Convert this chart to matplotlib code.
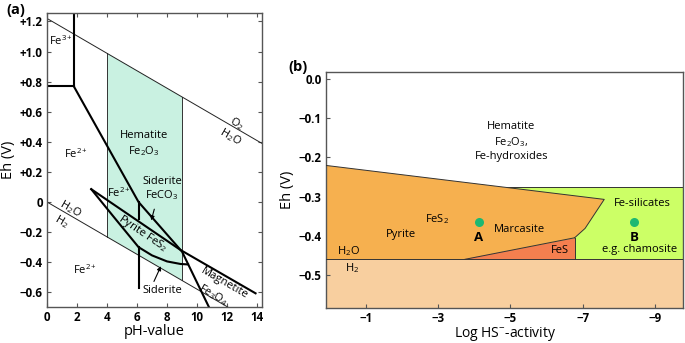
import matplotlib
matplotlib.use("Agg")
import matplotlib.pyplot as plt
from matplotlib.patches import Polygon

plt.rcParams['font.family'] = ['Open Sans', 'DejaVu Sans']
plt.rcParams['mathtext.fontset'] = 'custom'
plt.rcParams['mathtext.rm'] = 'Open Sans'
plt.rcParams['mathtext.it'] = 'Open Sans:italic'
plt.rcParams['mathtext.bf'] = 'Open Sans:bold'
plt.rcParams['axes.unicode_minus'] = True

# ---------------- Panel (a) data: Eh-pH diagram ----------------
o2_ph = [0.0, 14.4]
o2_eh = [1.22, 0.385]
h2_ph = [0.0, 12.3]
h2_eh = [0.0, -0.713]
fe3_vert_ph = [1.78, 1.78]
fe3_vert_eh = [1.30, 0.77]
fe3_horiz_ph = [0.0, 1.78]
fe3_horiz_eh = [0.77, 0.77]
lineA_ph = [1.78, 6.1, 9.0, 10.8]
lineA_eh = [0.77, 0.0, -0.33, -0.70]
lineB_ph = [2.95, 8.9, 13.9]
lineB_eh = [0.085, -0.319, -0.607]
lower_ph = [2.95, 4.44, 6.1, 7.0, 8.0, 8.9, 9.4]
lower_eh = [0.085, -0.098, -0.30, -0.355, -0.395, -0.412, -0.415]
sid_vert_ph = 6.1
sid_seg1_eh = [0.0, -0.116]
sid_seg2_eh = [-0.30, -0.573]
hem_ph = [4.0, 9.0]

a_xticks = [0, 2, 4, 6, 8, 10, 12, 14]
a_yticks = [1.2, 1.0, 0.8, 0.6, 0.4, 0.2, 0.0, -0.2, -0.4, -0.6]
a_yticklabels = ['+1.2', '+1.0', '+0.8', '+0.6', '+0.4', '+0.2', '0',
                 '\u22120.2', '\u22120.4', '\u22120.6']

# ---------------- Panel (b) data: Eh vs log HS- ----------------
orange_x = [0.1, -7.6, -7.07, -6.78, -3.74, 0.1]
orange_eh = [-0.2204, -0.307, -0.381, -0.405, -0.46, -0.46]
fes_x = [-6.78, -6.78, -3.74]
fes_eh = [-0.405, -0.46, -0.46]
green_x = [-4.9, -9.8, -9.8, -4.9]
green_eh = [-0.275, -0.275, -0.46, -0.46]
h2_level = -0.46
point_names = ['A', 'B']
point_x = [-4.13, -8.42]
point_eh = [-0.365, -0.365]
b_xticks = [-1, -3, -5, -7, -9]
b_xticklabels = ['\u22121', '\u22123', '\u22125', '\u22127', '\u22129']
b_yticks = [0.0, -0.1, -0.2, -0.3, -0.4, -0.5]
b_yticklabels = ['0.0', '\u22120.1', '\u22120.2', '\u22120.3', '\u22120.4', '\u22120.5']

fig = plt.figure(figsize=(6.85, 3.43), dpi=100)
axa = fig.add_axes([0.0686, 0.1058, 0.3139, 0.8563])
axb = fig.add_axes([0.4759, 0.1012, 0.5216, 0.6898])

spine_col = '#555555'
thick = 1.5
thin = 0.7
fs = 8
tfs = 8.3

# ----- Panel (a) -----
axa.set_xlim(0, 14.33)
axa.set_ylim(-0.696, 1.256)

def interp(x, xs, ys):
    return ys[0] + (ys[1] - ys[0]) * (x - xs[0]) / (xs[1] - xs[0])

hx = [hem_ph[0], hem_ph[1], hem_ph[1], hem_ph[0]]
hy = [interp(hem_ph[0], o2_ph, o2_eh), interp(hem_ph[1], o2_ph, o2_eh),
      interp(hem_ph[1], h2_ph, h2_eh), interp(hem_ph[0], h2_ph, h2_eh)]
axa.add_patch(Polygon(list(zip(hx, hy)), closed=True, facecolor='#c9f1e1',
                      edgecolor='none', zorder=0))
for p in hem_ph:
    axa.plot([p, p], [interp(p, o2_ph, o2_eh), interp(p, h2_ph, h2_eh)],
             color='#333333', lw=thin, zorder=1)

axa.plot(o2_ph, o2_eh, color='#222222', lw=thin)
axa.plot(h2_ph, h2_eh, color='#222222', lw=thin)
axa.plot(fe3_vert_ph, fe3_vert_eh, color='black', lw=thick)
axa.plot(fe3_horiz_ph, fe3_horiz_eh, color='black', lw=thick)
axa.plot(lineA_ph, lineA_eh, color='black', lw=thick)
axa.plot(lineB_ph, lineB_eh, color='black', lw=thick)
axa.plot(lower_ph, lower_eh, color='black', lw=thick)
axa.plot([sid_vert_ph, sid_vert_ph], sid_seg1_eh, color='black', lw=thick)
axa.plot([sid_vert_ph, sid_vert_ph], sid_seg2_eh, color='black', lw=thick)

arrow_kw = dict(arrowstyle='-|>', color='black', lw=0.8, mutation_scale=6)
axa.annotate('', xy=(6.9, -0.14), xytext=(7.2, -0.03), arrowprops=arrow_kw)
axa.annotate('', xy=(7.67, -0.41), xytext=(7.05, -0.545), arrowprops=arrow_kw)

axa.text(0.9, 1.07, 'Fe$^{3+}$', fontsize=fs, ha='center', va='center')
axa.text(1.95, 0.32, 'Fe$^{2+}$', fontsize=fs, ha='center', va='center')
axa.text(6.45, 0.385, 'Hematite\nFe$_2$O$_3$', fontsize=fs, ha='center',
         va='center', linespacing=1.3)
axa.text(12.67, 0.523, 'O$_2$', fontsize=fs, ha='center', va='center',
         rotation=-30, rotation_mode='anchor')
axa.text(12.22, 0.434, 'H$_2$O', fontsize=fs, ha='center', va='center',
         rotation=-30, rotation_mode='anchor')
axa.text(1.55, -0.042, 'H$_2$O', fontsize=fs, ha='center', va='center',
         rotation=-30, rotation_mode='anchor')
axa.text(1.0, -0.131, 'H$_2$', fontsize=fs, ha='center', va='center',
         rotation=-30, rotation_mode='anchor')
axa.text(4.78, 0.062, 'Fe$^{2+}$', fontsize=fs, ha='center', va='center')
axa.text(7.67, 0.086, 'Siderite\nFeCO$_3$', fontsize=fs, ha='center',
         va='center', linespacing=1.15)
axa.text(6.37, -0.21, 'Pyrite FeS$_2$', fontsize=fs, ha='center', va='center',
         rotation=-34, rotation_mode='anchor')
axa.text(2.55, -0.45, 'Fe$^{2+}$', fontsize=fs, ha='center', va='center')
axa.text(7.67, -0.59, 'Siderite', fontsize=fs, ha='center', va='center')
axa.text(11.8, -0.54, 'Magnetite', fontsize=fs, ha='center', va='center',
         rotation=-30, rotation_mode='anchor')
axa.text(11.05, -0.615, 'Fe$_3$O$_4$', fontsize=fs, ha='center', va='center',
         rotation=-30, rotation_mode='anchor')

axa.set_xticks(a_xticks)
axa.set_xticklabels([str(t) for t in a_xticks])
axa.set_yticks(a_yticks)
axa.set_yticklabels(a_yticklabels)
axa.tick_params(direction='in', length=3, width=0.8, color=spine_col,
                labelsize=tfs, top=True, right=True, pad=3)
for lab in axa.get_xticklabels() + axa.get_yticklabels():
    lab.set_fontweight('bold')
axa.set_xlabel('pH-value', fontsize=10.5, labelpad=0)
axa.set_ylabel('Eh (V)', fontsize=10.5, labelpad=3)
for s in axa.spines.values():
    s.set_color(spine_col)
    s.set_linewidth(1.0)
fig.text(6 / 685, 1 - 10 / 343, '(a)', fontsize=10.5, fontweight='bold',
         ha='left', va='center')

# ----- Panel (b) -----
axb.set_xlim(0.108, -9.79)
axb.set_ylim(-0.585, 0.019)
axb.axhspan(-0.585, h2_level, facecolor='#f8cf9f', edgecolor='none', zorder=0)
axb.add_patch(Polygon(list(zip(green_x, green_eh)), closed=True,
                      facecolor='#ccff66', edgecolor='none', zorder=1))
axb.plot([green_x[0], green_x[1]], [green_eh[0], green_eh[1]], color='#333333',
         lw=0.7, zorder=2)
axb.add_patch(Polygon(list(zip(orange_x, orange_eh)), closed=True,
                      facecolor='#f6b04f', edgecolor='none', zorder=2))
axb.plot(orange_x[:4], orange_eh[:4], color='#333333', lw=0.7, zorder=3)
axb.add_patch(Polygon(list(zip(fes_x, fes_eh)), closed=True,
                      facecolor='#f47f4f', edgecolor='none', zorder=2))
axb.plot([fes_x[0], fes_x[2]], [fes_eh[0], fes_eh[2]], color='#333333', lw=0.7, zorder=3)
axb.plot([fes_x[0], fes_x[1]], [fes_eh[0], fes_eh[1]], color='#333333', lw=0.7, zorder=3)
axb.axhline(h2_level, color='#333333', lw=0.7, zorder=3)

axb.plot(point_x, point_eh, 'o', color='#1db872', ms=6.5, mec='none', zorder=4)
for n, x, y in zip(point_names, point_x, point_eh):
    axb.text(x, y - 0.039, n, fontsize=9.5, fontweight='bold', ha='center',
             va='center', zorder=5)

axb.text(-5.03, -0.159, 'Hematite\nFe$_2$O$_3$,\nFe-hydroxides', fontsize=fs,
         ha='center', va='center', linespacing=1.3)
axb.text(-2.98, -0.357, 'FeS$_2$', fontsize=fs, ha='center', va='center')
axb.text(-1.96, -0.397, 'Pyrite', fontsize=fs, ha='center', va='center')
axb.text(-5.24, -0.383, 'Marcasite', fontsize=fs, ha='center', va='center')
axb.text(-8.65, -0.317, 'Fe-silicates', fontsize=fs, ha='center', va='center')
axb.text(-8.57, -0.436, 'e.g. chamosite', fontsize=fs, ha='center', va='center')
axb.text(-6.36, -0.438, 'FeS', fontsize=fs, ha='center', va='center')
axb.text(-0.51, -0.438, 'H$_2$O', fontsize=fs, ha='center', va='center')
axb.text(-0.61, -0.482, 'H$_2$', fontsize=fs, ha='center', va='center')

axb.set_xticks(b_xticks)
axb.set_xticklabels(b_xticklabels)
axb.set_yticks(b_yticks)
axb.set_yticklabels(b_yticklabels)
axb.tick_params(direction='in', length=3, width=0.8, color=spine_col,
                labelsize=tfs, pad=3)
for lab in axb.get_xticklabels() + axb.get_yticklabels():
    lab.set_fontweight('bold')
axb.set_xlabel('Log HS$^{\u2212}$-activity', fontsize=10, labelpad=0)
axb.set_ylabel('Eh (V)', fontsize=10.5, labelpad=3)
for s in axb.spines.values():
    s.set_color(spine_col)
    s.set_linewidth(1.0)
fig.text(298 / 685, 1 - 67 / 343, '(b)', fontsize=10.5, fontweight='bold',
         ha='center', va='center')

fig.savefig('out.png', dpi=100)
